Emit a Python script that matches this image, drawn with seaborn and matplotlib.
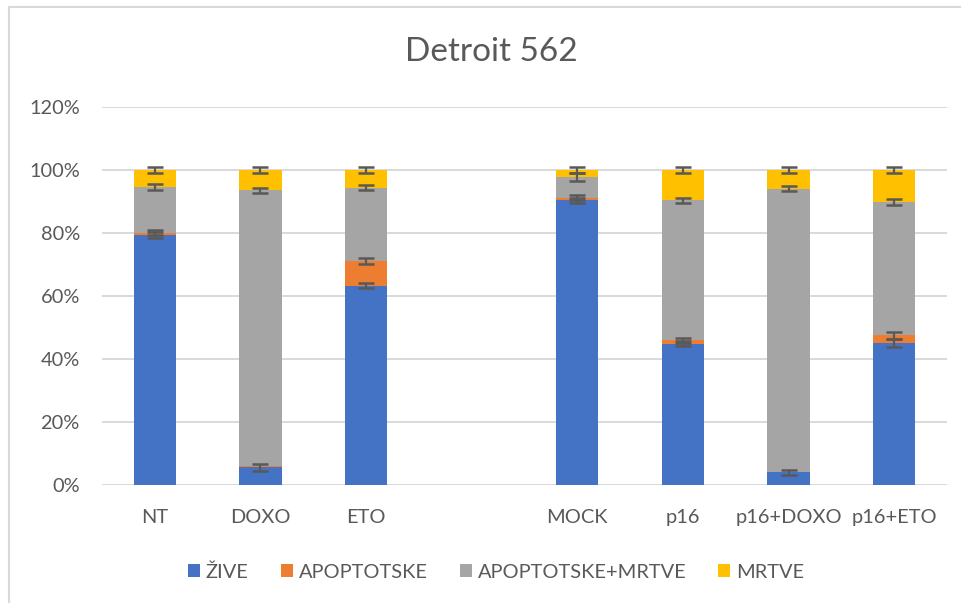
import numpy as np
import pandas as pd
import matplotlib
matplotlib.use("Agg")
import matplotlib.pyplot as plt
from matplotlib.patches import Patch
from matplotlib.lines import Line2D
import seaborn as sns

# ---- data (percent) ----
categories = ["NT", "DOXO", "ETO", "MOCK", "p16", "p16+DOXO", "p16+ETO"]
order = ["NT", "DOXO", "ETO", " ", "MOCK", "p16", "p16+DOXO", "p16+ETO"]
zive = [79.3, 5.6, 63.3, 90.4, 44.9, 4.0, 45.1]
apoptotske = [0.8, 0.3, 7.8, 0.8, 1.0, 0.2, 2.4]
apop_mrtve = [14.5, 87.6, 23.3, 6.5, 44.5, 89.8, 42.3]
mrtve = [5.4, 6.5, 5.6, 2.3, 9.6, 6.0, 10.2]

err_zive = [1.0, 1.0, 0.9, 0.8, 0.8, 0.9, 1.2]
err_apop = [0.8, 0.0, 1.0, 0.8, 0.8, 0.0, 1.2]
err_apop_mrtve = [0.9, 0.8, 0.9, 1.2, 0.8, 0.8, 0.9]
err_mrtve = [0.9, 0.9, 0.9, 0.9, 0.8, 0.9, 0.9]

series_names = ["ŽIVE", "APOPTOTSKE", "APOPTOTSKE+MRTVE", "MRTVE"]
colors = ["#4472C4", "#ED7D31", "#A5A5A5", "#FFC000"]
yticks = [0, 20, 40, 60, 80, 100, 120]

sns.set_theme(style="white")
plt.rcParams["font.family"] = ["Lato", "DejaVu Sans"]
text_color = "#595959"

fig = plt.figure(figsize=(9.61, 6.03), dpi=100)
ax = fig.add_axes([102 / 961, 1 - 485 / 603, 845 / 961, 378 / 603])

vals = np.array([zive, apoptotske, apop_mrtve, mrtve])
errs = np.array([err_zive, err_apop, err_apop_mrtve, err_mrtve])
cum = np.cumsum(vals, axis=0)

# draw cumulative bars, largest first, so each segment shows
for i in range(3, -1, -1):
    df = pd.DataFrame({"cat": categories, "val": cum[i]})
    sns.barplot(data=df, x="cat", y="val", order=order, color=colors[i],
                width=0.4, saturation=1, errorbar=None, ax=ax,
                edgecolor="none", linewidth=0, zorder=2)

# error bars at each segment top
xpos = [order.index(c) for c in categories]
for i in range(4):
    mask = errs[i] > 0
    ax.errorbar(np.array(xpos)[mask], cum[i][mask], yerr=errs[i][mask],
                fmt="none", ecolor="#595959", elinewidth=1.6, capsize=5.5,
                capthick=1.8, zorder=4)

ax.set_ylim(0, 120)
ax.set_xlim(-0.5, len(order) - 0.5)
ax.set_yticks(yticks)
ax.set_yticklabels([f"{t}%" for t in yticks])
ax.set_xlabel("")
ax.set_ylabel("")
ax.yaxis.grid(True, color="#D9D9D9", linewidth=1.4, zorder=0)
ax.xaxis.grid(False)
ax.set_axisbelow(True)
for s in ax.spines.values():
    s.set_visible(False)
ax.tick_params(axis="both", length=0, labelsize=14.4, colors=text_color)
ax.tick_params(axis="y", pad=16)
ax.tick_params(axis="x", pad=17)

fig.text(491.5 / 961, 1 - 52 / 603, "Detroit 562", ha="center", va="center",
         fontsize=24, color=text_color, fontweight="normal")

handles = [Patch(facecolor=c, edgecolor="none") for c in colors]
fig.legend(handles, series_names, loc="center", bbox_to_anchor=(496 / 961, 1 - 572 / 603),
           ncol=4, frameon=False, fontsize=14.4, labelcolor=text_color,
           handlelength=0.6, handleheight=0.6, handletextpad=0.3, columnspacing=1.6)

# chart border (left and top visible)
fig.add_artist(Line2D([9 / 961, 9 / 961], [0, 1 - 7 / 603], transform=fig.transFigure,
                      color="#D9D9D9", linewidth=1.5))
fig.add_artist(Line2D([9 / 961, 1], [1 - 7 / 603, 1 - 7 / 603], transform=fig.transFigure,
                      color="#D9D9D9", linewidth=1.5))

fig.savefig("out.png", dpi=100)
